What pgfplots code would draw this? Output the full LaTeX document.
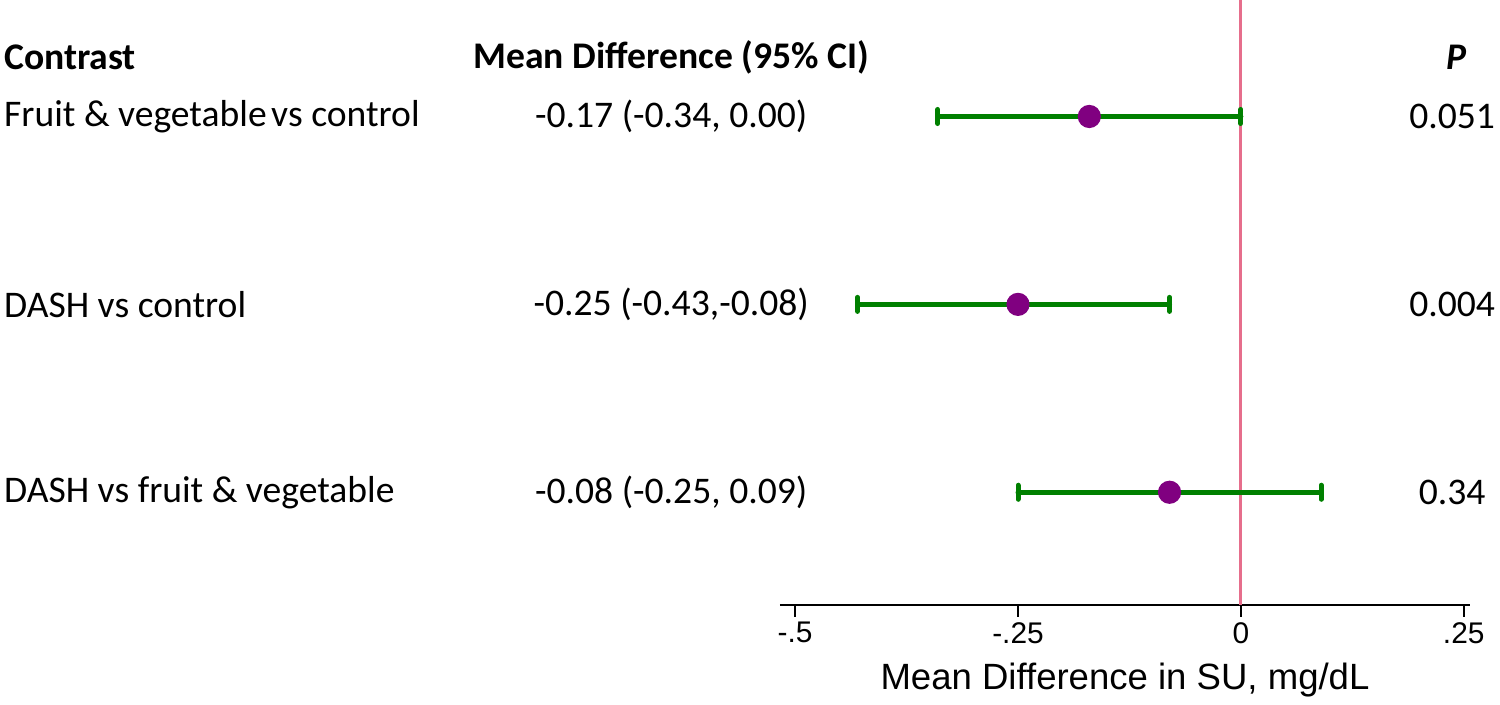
\documentclass[border=0pt]{standalone}
\usepackage{pgfplots}
\pgfplotsset{compat=1.18}
\usepackage{fontspec}
\setmainfont{Carlito}
\newfontfamily\arial{Liberation Sans}
\definecolor{cigreen}{RGB}{0,128,0}
\definecolor{dotpurple}{RGB}{128,0,128}
\definecolor{refred}{RGB}{230,110,140}
\begin{document}
\begin{tikzpicture}
\begin{axis}[
  scale only axis, width=6.9cm, height=6.05cm,
  xmin=-0.517, xmax=0.257, ymin=0.4, ymax=3.62,
  axis x line*=bottom, axis y line=none,
  axis line style={line width=0.7pt, black},
  xtick={-0.5,-0.25,0,0.25}, xticklabels={-.5,-.25,0,.25},
  ytick=\empty,
  tick align=outside, major tick length=0.12cm,
  tick style={line width=0.7pt, black},
  xticklabel style={font=\arial\fontsize{8.5}{10}\selectfont, yshift=0.07cm},
  xlabel={Mean Difference in SU, mg/dL},
  xlabel style={font=\arial\fontsize{10.4}{12}\selectfont, yshift=0.05cm},
  clip=false,
]
\coordinate (O) at (rel axis cs:0,0);
% reference line
\addplot[refred, line width=0.8pt] coordinates {(0,0.4) (0,3.62)};
% confidence intervals
\addplot[cigreen, line width=1.42pt, line cap=round, mark=|, mark size=2pt,
  mark options={line width=1.42pt, line cap=round}] coordinates {(-0.34,3) (0.00,3)};
\addplot[cigreen, line width=1.42pt, line cap=round, mark=|, mark size=2pt,
  mark options={line width=1.42pt, line cap=round}] coordinates {(-0.43,2) (-0.08,2)};
\addplot[cigreen, line width=1.42pt, line cap=round, mark=|, mark size=2pt,
  mark options={line width=1.42pt, line cap=round}] coordinates {(-0.25,1) (0.09,1)};
% point estimates
\addplot[only marks, mark=*, mark size=3.1pt, dotpurple, mark options={fill=dotpurple, draw=dotpurple}]
  coordinates {(-0.17,3) (-0.25,2) (-0.08,1)};
% table text
\node[anchor=west, font=\bfseries\fontsize{10.7}{12}\selectfont, inner sep=0pt] at (axis cs:-1.388,3.314) {Contrast};
\node[anchor=center, font=\bfseries\fontsize{10.7}{12}\selectfont, inner sep=0pt] at (axis cs:-0.639,3.314) {Mean Difference (95\% CI)};
\node[anchor=center, font=\bfseries\itshape\fontsize{10.7}{12}\selectfont, inner sep=0pt] at (axis cs:0.242,3.314) {P};
\node[anchor=west, font=\fontsize{10.7}{12}\selectfont, inner sep=0pt] at (axis cs:-1.388,3) {Fruit \& vegetable\hspace{0.12em}vs control};
\node[anchor=west, font=\fontsize{10.7}{12}\selectfont, inner sep=0pt] at (axis cs:-1.388,2) {DASH vs control};
\node[anchor=west, font=\fontsize{10.7}{12}\selectfont, inner sep=0pt] at (axis cs:-1.388,1) {DASH vs fruit \& vegetable};
\node[anchor=center, font=\fontsize{10.7}{12}\selectfont, inner sep=0pt] at (axis cs:-0.639,3) {-0.17 (-0.34, 0.00)};
\node[anchor=center, font=\fontsize{10.7}{12}\selectfont, inner sep=0pt] at (axis cs:-0.639,2) {-0.25 (-0.43,-0.08)};
\node[anchor=center, font=\fontsize{10.7}{12}\selectfont, inner sep=0pt] at (axis cs:-0.639,1) {-0.08 (-0.25, 0.09)};
\node[anchor=center, font=\fontsize{10.7}{12}\selectfont, inner sep=0pt] at (axis cs:0.237,3) {0.051};
\node[anchor=center, font=\fontsize{10.7}{12}\selectfont, inner sep=0pt] at (axis cs:0.237,2) {0.004};
\node[anchor=center, font=\fontsize{10.7}{12}\selectfont, inner sep=0pt] at (axis cs:0.237,1) {0.34};
\end{axis}
\pgfresetboundingbox
\path[use as bounding box] (O) ++(-7.8cm,-1cm) rectangle ++(15cm,7.05cm);
\end{tikzpicture}
\end{document}
